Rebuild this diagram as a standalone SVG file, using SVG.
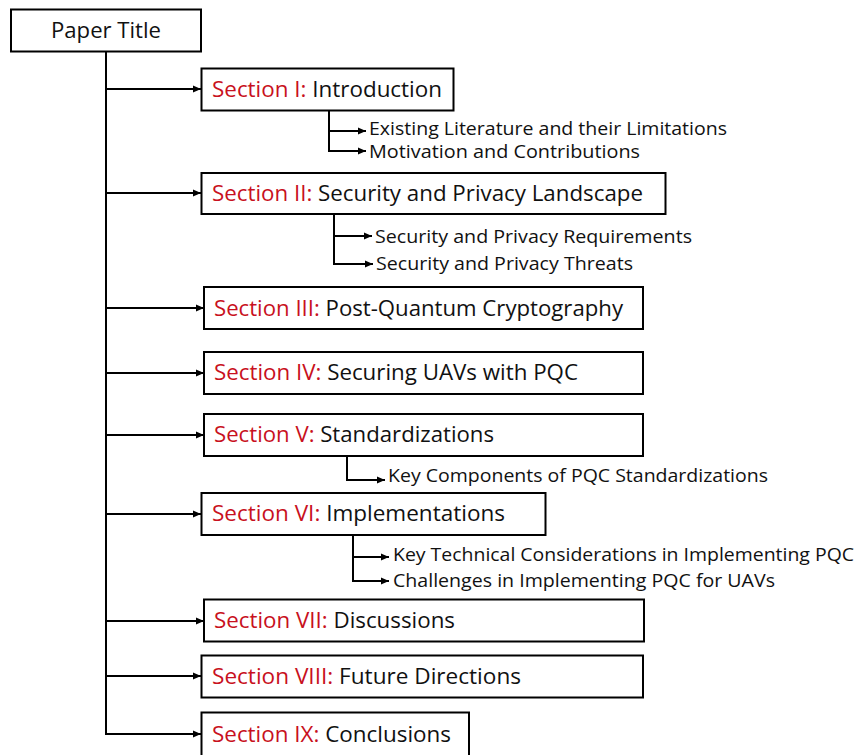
<svg xmlns="http://www.w3.org/2000/svg" width="859" height="755" viewBox="0 0 859 755">
  <defs>
    <marker id="arrow" markerUnits="userSpaceOnUse" markerWidth="10" markerHeight="10" refX="9" refY="4" orient="auto">
      <path d="M1,0.5 L9,4 L1,7.5 Z" fill="#000"/>
    </marker>
    <style>
      .box { fill: #fff; stroke: #000; stroke-width: 2; }
      .wire { fill: none; stroke: #000; stroke-width: 2; }
      .arr { fill: none; stroke: #000; stroke-width: 2; marker-end: url(#arrow); }
      .t { font-family: "Open Sans", "Noto Sans", "Liberation Sans", sans-serif; fill: #111; }
      .big { font-size: 22px; }
      .small { font-size: 19px; }
      .sec { fill: #c81020; }
    </style>
  </defs>
  <rect width="859" height="755" fill="#fff"/>

  <!-- connectors -->
  <g id="connectors">
    <line class="wire" x1="106" y1="51" x2="106" y2="735"/>
    <line class="arr" x1="105" y1="89" x2="201" y2="89"/>
    <line class="arr" x1="105" y1="193" x2="201" y2="193"/>
    <line class="arr" x1="105" y1="308" x2="204" y2="308"/>
    <line class="arr" x1="105" y1="373" x2="204" y2="373"/>
    <line class="arr" x1="105" y1="435" x2="204" y2="435"/>
    <line class="arr" x1="105" y1="514" x2="201" y2="514"/>
    <line class="arr" x1="105" y1="621" x2="204" y2="621"/>
    <line class="arr" x1="105" y1="676" x2="201" y2="676"/>
    <path class="arr" d="M106,734 L201,734"/>

    <!-- Section I sub-topics -->
    <line class="wire" x1="329" y1="111" x2="329" y2="152"/>
    <line class="arr" x1="328" y1="131" x2="366" y2="131"/>
    <line class="arr" x1="328" y1="151" x2="366" y2="151"/>

    <!-- Section II sub-topics -->
    <line class="wire" x1="334" y1="214" x2="334" y2="265"/>
    <line class="arr" x1="333" y1="236" x2="372" y2="236"/>
    <line class="arr" x1="333" y1="264" x2="373" y2="264"/>

    <!-- Section V sub-topic -->
    <path class="arr" d="M347,456 L347,480 L385,480"/>

    <!-- Section VI sub-topics -->
    <line class="wire" x1="353" y1="535" x2="353" y2="582"/>
    <line class="arr" x1="352" y1="557" x2="389" y2="557"/>
    <line class="arr" x1="352" y1="581" x2="389" y2="581"/>
  </g>

  <g id="paper-title">
    <rect class="box" x="11" y="9.5" width="190" height="42"/>
    <text class="t big" x="51" y="38" textLength="110" lengthAdjust="spacingAndGlyphs">Paper Title</text>
  </g>

  <g id="section-1">
    <rect class="box" x="201.5" y="68.5" width="252" height="42"/>
    <text class="t big" x="212" y="97" textLength="230" lengthAdjust="spacingAndGlyphs"><tspan class="sec">Section I:</tspan> Introduction</text>
  </g>
  <g id="section-1-literature">
    <text class="t small" x="369" y="135" textLength="358" lengthAdjust="spacingAndGlyphs">Existing Literature and their Limitations</text>
  </g>
  <g id="section-1-motivation">
    <text class="t small" x="369" y="158" textLength="271" lengthAdjust="spacingAndGlyphs">Motivation and Contributions</text>
  </g>

  <g id="section-2">
    <rect class="box" x="201.5" y="173" width="464" height="41"/>
    <text class="t big" x="212" y="201" textLength="431" lengthAdjust="spacingAndGlyphs"><tspan class="sec">Section II:</tspan> Security and Privacy Landscape</text>
  </g>
  <g id="section-2-requirements">
    <text class="t small" x="375" y="243" textLength="317" lengthAdjust="spacingAndGlyphs">Security and Privacy Requirements</text>
  </g>
  <g id="section-2-threats">
    <text class="t small" x="376" y="270" textLength="257" lengthAdjust="spacingAndGlyphs">Security and Privacy Threats</text>
  </g>

  <g id="section-3">
    <rect class="box" x="204" y="287" width="439" height="42"/>
    <text class="t big" x="214" y="316" textLength="409" lengthAdjust="spacingAndGlyphs"><tspan class="sec">Section III:</tspan> Post-Quantum Cryptography</text>
  </g>

  <g id="section-4">
    <rect class="box" x="204" y="352" width="439" height="42"/>
    <text class="t big" x="214" y="380" textLength="364" lengthAdjust="spacingAndGlyphs"><tspan class="sec">Section IV:</tspan> Securing UAVs with PQC</text>
  </g>

  <g id="section-5">
    <rect class="box" x="204" y="414" width="439" height="42"/>
    <text class="t big" x="214" y="442" textLength="280" lengthAdjust="spacingAndGlyphs"><tspan class="sec">Section V:</tspan> Standardizations</text>
  </g>
  <g id="section-5-components">
    <text class="t small" x="388" y="482" textLength="380" lengthAdjust="spacingAndGlyphs">Key Components of PQC Standardizations</text>
  </g>

  <g id="section-6">
    <rect class="box" x="201.5" y="493" width="344" height="42"/>
    <text class="t big" x="212" y="521" textLength="293" lengthAdjust="spacingAndGlyphs"><tspan class="sec">Section VI:</tspan> Implementations</text>
  </g>
  <g id="section-6-considerations">
    <text class="t small" x="393" y="561" textLength="461" lengthAdjust="spacingAndGlyphs">Key Technical Considerations in Implementing PQC</text>
  </g>
  <g id="section-6-challenges">
    <text class="t small" x="393" y="587" textLength="382" lengthAdjust="spacingAndGlyphs">Challenges in Implementing PQC for UAVs</text>
  </g>

  <g id="section-7">
    <rect class="box" x="204" y="599.5" width="440" height="42"/>
    <text class="t big" x="214" y="628" textLength="241" lengthAdjust="spacingAndGlyphs"><tspan class="sec">Section VII:</tspan> Discussions</text>
  </g>

  <g id="section-8">
    <rect class="box" x="201.5" y="655.5" width="441.5" height="42"/>
    <text class="t big" x="212" y="684" textLength="309" lengthAdjust="spacingAndGlyphs"><tspan class="sec">Section VIII:</tspan> Future Directions</text>
  </g>

  <g id="section-9">
    <rect class="box" x="201.5" y="712.5" width="267.5" height="50"/>
    <text class="t big" x="212" y="742" textLength="239" lengthAdjust="spacingAndGlyphs"><tspan class="sec">Section IX:</tspan> Conclusions</text>
  </g>
</svg>
